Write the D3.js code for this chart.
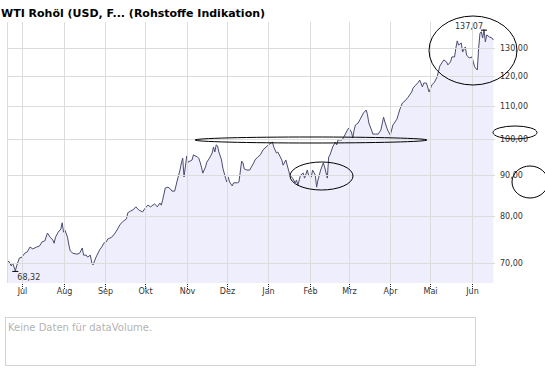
<!DOCTYPE html>
<html><head><meta charset="utf-8">
<script src="https://cdn.jsdelivr.net/npm/d3@7"></script>
<style>body{margin:0;background:#fff}svg{display:block}</style>
</head><body>
<svg id="c" width="545" height="370"></svg>
<script>
const titleText = "WTI Rohöl (USD, F... (Rohstoffe Indikation)";
const noVolumeText = "Keine Daten für dataVolume.";

const dates = [
 "2007-06-19","2007-06-21","2007-06-23","2007-06-24","2007-06-26","2007-06-27","2007-06-28","2007-06-29",
 "2007-07-01","2007-07-03","2007-07-05","2007-07-07","2007-07-09","2007-07-12","2007-07-14","2007-07-16","2007-07-18","2007-07-20","2007-07-22","2007-07-24","2007-07-25","2007-07-26","2007-07-28","2007-07-30","2007-07-31",
 "2007-08-01","2007-08-02","2007-08-04","2007-08-05","2007-08-06","2007-08-08","2007-08-11","2007-08-13","2007-08-15","2007-08-16","2007-08-18","2007-08-19","2007-08-21","2007-08-22","2007-08-23","2007-08-25","2007-08-26","2007-08-28","2007-08-30","2007-08-31",
 "2007-09-02","2007-09-03","2007-09-06","2007-09-08","2007-09-10","2007-09-12","2007-09-14","2007-09-17","2007-09-18","2007-09-20","2007-09-22","2007-09-24","2007-09-26","2007-09-29",
 "2007-10-01","2007-10-03","2007-10-05","2007-10-08","2007-10-10","2007-10-12","2007-10-13","2007-10-14","2007-10-16","2007-10-18","2007-10-20","2007-10-21","2007-10-23","2007-10-25","2007-10-27","2007-10-28","2007-10-29","2007-10-30",
 "2007-11-01","2007-11-02","2007-11-05","2007-11-06","2007-11-09","2007-11-10","2007-11-11","2007-11-12","2007-11-13","2007-11-15","2007-11-16","2007-11-18","2007-11-20","2007-11-21","2007-11-22","2007-11-23","2007-11-24","2007-11-25","2007-11-27","2007-11-28","2007-11-30",
 "2007-12-01","2007-12-02","2007-12-03","2007-12-05","2007-12-06","2007-12-09","2007-12-10","2007-12-12","2007-12-13","2007-12-14","2007-12-16","2007-12-18","2007-12-21","2007-12-22","2007-12-24","2007-12-26","2007-12-28",
 "2008-01-01","2008-01-04","2008-01-05","2008-01-07","2008-01-08","2008-01-11","2008-01-12","2008-01-14","2008-01-16","2008-01-17","2008-01-19","2008-01-21","2008-01-22","2008-01-23","2008-01-25","2008-01-27","2008-01-28","2008-01-30","2008-01-31",
 "2008-02-02","2008-02-03","2008-02-05","2008-02-06","2008-02-07","2008-02-09","2008-02-11","2008-02-12","2008-02-14","2008-02-15","2008-02-16","2008-02-18","2008-02-20","2008-02-21","2008-02-22","2008-02-25","2008-02-26","2008-02-29",
 "2008-03-01","2008-03-03","2008-03-04","2008-03-05","2008-03-06","2008-03-08","2008-03-10","2008-03-12","2008-03-14","2008-03-15","2008-03-16","2008-03-18","2008-03-19","2008-03-21","2008-03-23","2008-03-25","2008-03-27","2008-03-28","2008-03-30",
 "2008-04-01","2008-04-03","2008-04-06","2008-04-08","2008-04-10","2008-04-12","2008-04-14","2008-04-17","2008-04-18","2008-04-20","2008-04-22","2008-04-23","2008-04-25","2008-04-26","2008-04-28","2008-04-30",
 "2008-05-02","2008-05-04","2008-05-06","2008-05-08","2008-05-10","2008-05-11","2008-05-13","2008-05-14","2008-05-16","2008-05-17","2008-05-19","2008-05-20","2008-05-21","2008-05-22","2008-05-24","2008-05-25","2008-05-27","2008-05-28","2008-05-30",
 "2008-06-01","2008-06-02","2008-06-03","2008-06-05","2008-06-06","2008-06-07","2008-06-08","2008-06-09","2008-06-10","2008-06-11","2008-06-12","2008-06-14","2008-06-16","2008-06-17"
];
const closes = [
 69.7,70.3,69.3,69.9,68.32,69.3,70.1,70.9,
 71.1,71.9,72.2,73.2,72.8,73.2,73.4,74.3,74.5,76.2,75.3,74.7,74.0,75.3,76.4,77.1,78.5,
 76.4,76.9,75.3,73.6,72.4,71.9,71.7,71.9,73.0,71.5,71.5,71.1,71.5,70.1,69.5,70.9,71.5,72.6,73.4,74.0,
 74.3,74.9,75.3,76.0,76.9,78.0,78.7,79.4,80.8,81.2,81.5,82.2,81.5,81.0,
 81.9,82.6,82.2,82.9,82.2,83.1,82.6,83.8,86.8,87.0,86.5,86.0,86.0,88.8,91.4,93.3,94.6,89.6,
 95.2,93.5,94.1,95.5,94.9,94.6,93.5,92.2,90.6,92.2,93.5,94.6,96.0,97.7,96.3,98.3,98.0,96.3,94.1,91.9,89.3,
 88.3,89.6,88.3,87.3,88.1,88.1,88.3,93.8,93.3,91.7,91.4,91.4,93.3,94.1,94.9,95.5,96.9,
 98.3,99.1,97.7,96.0,96.3,94.1,92.7,94.1,91.4,90.1,89.3,88.1,88.8,87.5,90.1,90.6,89.3,91.4,90.1,
 89.6,91.4,90.1,87.0,88.8,91.4,93.3,92.2,89.3,94.9,95.5,97.7,99.1,98.3,99.7,99.7,100.3,102.6,
 103.2,102.0,100.3,102.6,104.1,104.7,106.2,107.8,108.7,107.2,104.7,102.6,101.4,101.4,101.4,102.6,106.5,105.0,102.6,
 101.1,104.1,105.9,108.7,110.9,111.6,112.6,114.5,115.8,116.8,117.8,118.5,116.2,117.5,117.5,114.5,
 116.8,117.8,119.6,123.4,124.9,125.6,124.9,123.8,124.9,126.7,126.7,130.0,132.7,131.1,131.9,128.5,130.4,127.4,126.3,
 126.7,124.9,123.1,122.0,130.0,135.7,136.2,133.8,137.07,132.3,135.0,134.2,133.8,133.0
];
const yTickValues = [70, 80, 90, 100, 110, 120, 130];
const monthStarts = ["2007-07-01","2007-08-01","2007-09-01","2007-10-01","2007-11-01","2007-12-01","2008-01-01","2008-02-01","2008-03-01","2008-04-01","2008-05-01","2008-06-01"];
const monthLabels = ["Jul","Aug","Sep","Okt","Nov","Dez","Jan","Feb","Mrz","Apr","Mai","Jun"];

const parse = d3.utcParse("%Y-%m-%d");
const data = dates.map((d,i)=>({date:parse(d), v:closes[i]}));
const de = d3.formatLocale({decimal:",", thousands:".", grouping:[3], currency:["","€"]});
const fmt = de.format(".2f");

const L=7, R=495, T=22, B=283;
const x = d3.scaleUtc().domain([new Date(Date.UTC(2007,5,19,19)), new Date(Date.UTC(2008,5,18,5))]).range([L,R]);
const y = d3.scaleLog().domain([70,130]).range([262.5,48]);

const svg = d3.select("#c");
const font = "'DejaVu Sans', Verdana, sans-serif";

svg.append("rect").attr("width",545).attr("height",370).attr("fill","#fff");

svg.append("text").attr("x",1).attr("y",17).attr("font-family",font).attr("font-weight","bold")
  .attr("font-size","11px").attr("fill","#000").text(titleText);

svg.append("clipPath").attr("id","pc").append("rect").attr("x",L).attr("y",T).attr("width",R-L).attr("height",B-T);

const plot = svg.append("g").attr("clip-path","url(#pc)");
plot.append("path").datum(data)
  .attr("d", d3.area().x(d=>x(d.date)).y0(B).y1(d=>y(d.v)))
  .attr("fill","#eeeefc");

const grid = svg.append("g").attr("stroke","#dcdcdc").attr("stroke-width",1);
grid.append("line").attr("x1",L+0.5).attr("x2",L+0.5).attr("y1",T).attr("y2",B);
monthStarts.forEach(m=>{
  const xx = Math.round(x(parse(m)))+0.5;
  grid.append("line").attr("x1",xx).attr("x2",xx).attr("y1",T).attr("y2",B);
});
yTickValues.forEach(v=>{
  const yy = Math.round(y(v))+0.5;
  grid.append("line").attr("x1",L).attr("x2",R).attr("y1",yy).attr("y2",yy);
});

plot.append("path").datum(data)
  .attr("d", d3.line().x(d=>x(d.date)).y(d=>y(d.v)))
  .attr("fill","none").attr("stroke","#4c4c70").attr("stroke-width",1);

// axes labels
const xa = svg.append("g");
monthStarts.forEach((m,i)=>{
  const xx = Math.round(x(parse(m)))+0.5;
  xa.append("line").attr("x1",xx).attr("x2",xx).attr("y1",B+1).attr("y2",B+6)
    .attr("stroke","#222").attr("stroke-dasharray","1,1");
  xa.append("text").attr("x",xx).attr("y",B+11).attr("text-anchor","middle")
    .attr("font-family",font).attr("font-size","8px").attr("fill","#333").text(monthLabels[i]);
});
const ya = svg.append("g");
yTickValues.forEach(v=>{
  ya.append("text").attr("x",500).attr("y",y(v)+3).attr("font-family",font)
    .attr("font-size","8px").attr("fill","#333").text(fmt(v));
});

// min / max markers
const minD = data[d3.minIndex(data,d=>d.v)];
const maxD = data[d3.maxIndex(data,d=>d.v)];
const mx = x(minD.date), my = y(minD.v);
svg.append("line").attr("x1",mx-3).attr("x2",mx+3).attr("y1",my+0.5).attr("y2",my+0.5).attr("stroke","#000");
svg.append("text").attr("x",mx+2).attr("y",my+9).attr("font-family",font).attr("font-size","8px")
  .attr("fill","#333").text(fmt(minD.v));
const Mx = x(maxD.date), My = y(maxD.v);
svg.append("line").attr("x1",Mx-3).attr("x2",Mx+3).attr("y1",My+0.5).attr("y2",My+0.5).attr("stroke","#000");
svg.append("text").attr("x",Mx-1).attr("y",My-1).attr("text-anchor","end").attr("font-family",font)
  .attr("font-size","8px").attr("fill","#333").text(fmt(maxD.v));

// volume box
svg.append("rect").attr("x",5.5).attr("y",317.5).attr("width",470).attr("height",48)
  .attr("fill","#fff").attr("stroke","#d4d4d4");
svg.append("text").attr("x",8).attr("y",331).attr("font-family",font).attr("font-size","10px")
  .attr("fill","#b4b4b4").text(noVolumeText);

// hand-drawn annotation ellipses
const ann = svg.append("g").attr("fill","none").attr("stroke","#000").attr("stroke-width",1);
ann.append("ellipse").attr("cx",473).attr("cy",50.5).attr("rx",44).attr("ry",34.5);
ann.append("ellipse").attr("cx",311).attr("cy",140).attr("rx",116).attr("ry",3);
ann.append("ellipse").attr("cx",321.5).attr("cy",176).attr("rx",31.5).attr("ry",14);
ann.append("ellipse").attr("cx",515).attr("cy",132.5).attr("rx",22).attr("ry",6.5);
ann.append("ellipse").attr("cx",530).attr("cy",182).attr("rx",18).attr("ry",16);
</script>
</body></html>
